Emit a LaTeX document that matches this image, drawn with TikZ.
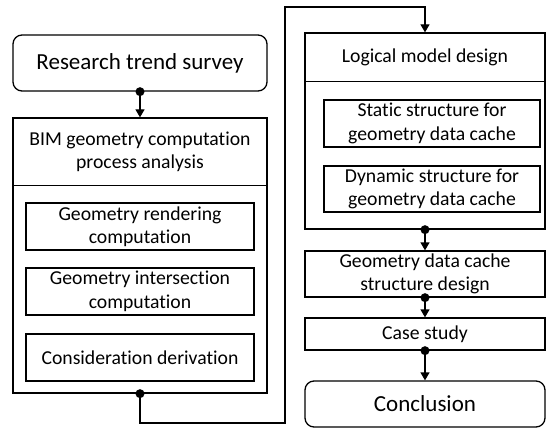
\documentclass[tikz,border=0pt]{standalone}
\usepackage{fontspec}
\setmainfont[Ligatures={NoCommon}]{Carlito}
\usetikzlibrary{arrows.meta}
\begin{document}
\begin{tikzpicture}[x=1pt,y=-1pt,
  box/.style={draw,line width=1.3pt,inner sep=0pt,align=center,font=\fontsize{19.7}{23.5}\selectfont},
  rbox/.style={box,rounded corners=9pt},
  frame/.style={draw,line width=1.3pt,inner sep=0pt},
  conn/.style={line width=1.3pt,-{Triangle[length=8pt,width=9pt]}},
  dot/.style={fill,radius=4.5pt}]
\useasboundingbox (0,0) rectangle (547,428);
% left column
\node[rbox,minimum width=254pt,minimum height=56pt,font=\fontsize{23}{27}\selectfont] (rts) at (140,63) {Research trend survey};
\node[frame,minimum width=254pt,minimum height=275pt] (bim) at (140,255.5) {};
\node[box,draw=none,minimum width=254pt,minimum height=66pt] (bimh) at (140,152) {BIM geometry computation\\process analysis};
\draw[line width=1.3pt] (bim.west |- bimh.south) -- (bim.east |- bimh.south);
\node[box,minimum width=228pt,minimum height=47pt] (r1) at (140,226.5) {Geometry rendering\\computation};
\node[box,minimum width=228pt,minimum height=47pt] (r2) at (140,291.5) {Geometry intersection\\computation};
\node[box,minimum width=228pt,minimum height=47pt] (r3) at (140,357.5) {Consideration derivation};
% right column
\node[frame,minimum width=240pt,minimum height=196pt] (lmd) at (425,131) {};
\node[box,draw=none,minimum width=240pt,minimum height=48pt] (lmdh) at (425,57) {Logical model design};
\draw[line width=1.3pt] (lmd.west |- lmdh.south) -- (lmd.east |- lmdh.south);
\node[box,minimum width=216pt,minimum height=47pt] (st) at (432,123.5) {Static structure for\\geometry data cache};
\node[box,minimum width=216pt,minimum height=46pt] (dy) at (432,189) {Dynamic structure for\\geometry data cache};
\node[box,minimum width=240pt,minimum height=46pt] (gdc) at (425,274) {Geometry data cache\\structure design};
\node[box,minimum width=240pt,minimum height=32pt] (cs) at (425,334) {Case study};
\node[rbox,minimum width=240pt,minimum height=46pt,font=\fontsize{23}{27}\selectfont] (con) at (425,404) {Conclusion};
% connectors
\coordinate (c1) at (285,423);
\coordinate (c2) at (285,7);
\draw[conn] (rts.south) -- (bim.north);
\fill[dot] (rts.south) circle;
\draw[conn] (bim.south) |- (c1) -- (c2) -| (lmd.north);
\fill[dot] (bim.south) circle;
\draw[conn] (lmd.south) -- (gdc.north);
\fill[dot] (lmd.south) circle;
\draw[conn] (gdc.south) -- (cs.north);
\fill[dot] (gdc.south) circle;
\draw[conn] (cs.south) -- (con.north);
\fill[dot] (cs.south) circle;
\end{tikzpicture}
\end{document}
